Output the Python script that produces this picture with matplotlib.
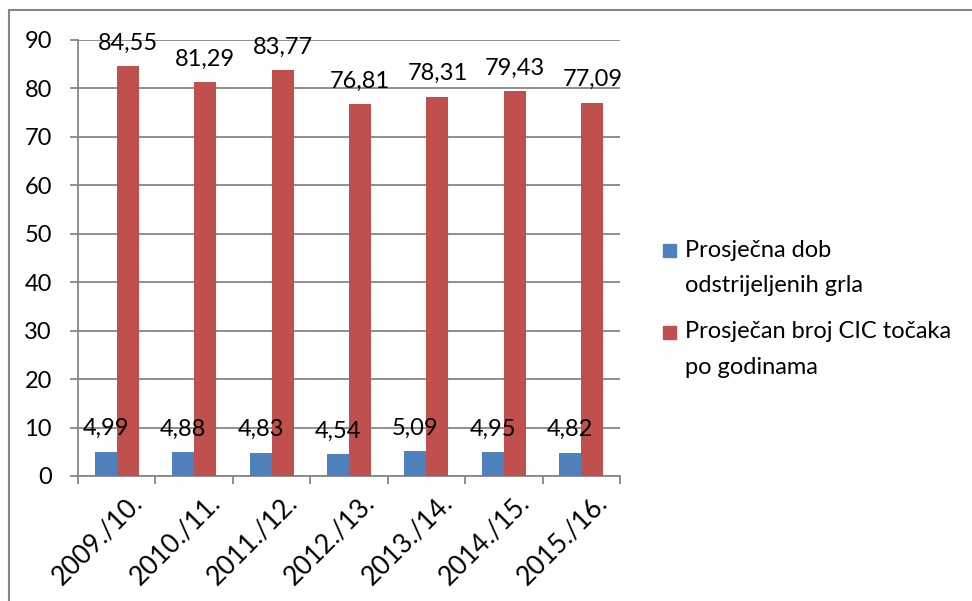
import numpy as np
import matplotlib.pyplot as plt
from matplotlib.patches import Rectangle
from matplotlib.transforms import ScaledTranslation

# ------------------------
# Data
# ------------------------
seasons = ['2009./10.', '2010./11.', '2011./12.', '2012./13.',
           '2013./14.', '2014./15.', '2015./16.']
avg_age = [4.99, 4.88, 4.83, 4.54, 5.09, 4.95, 4.82]
avg_cic = [84.55, 81.29, 83.77, 76.81, 78.31, 79.43, 77.09]
series_names = ['Prosječna dob\nodstrijeljenih grla',
                'Prosječan broj CIC točaka\npo godinama']

blue = '#4f81bd'
red = '#c0504d'
grey = '#868686'

plt.rcParams['font.family'] = ['Lato', 'DejaVu Sans']
fs = 17

W, H = 972, 601
fig = plt.figure(figsize=(W / 100, H / 100), dpi=100)
ax = fig.add_axes([78 / W, 1 - 476 / H, (620 - 78) / W, (476 - 40) / H])

# outer chart frame (continues past the image edge)
fig.patches.append(Rectangle((9 / W, -0.1), 1.2, 1 - 10 / H + 0.1,
                             transform=fig.transFigure, fill=False,
                             edgecolor=grey, linewidth=1.5))

x = np.arange(len(seasons))
w = 0.285
b1 = ax.bar(x - w / 2, avg_age, w, color=blue, zorder=3)
b2 = ax.bar(x + w / 2, avg_cic, w, color=red, zorder=3)

fmt = lambda v: f'{v:.2f}'.replace('.', ',')
ax.bar_label(b1, labels=[fmt(v) for v in avg_age], padding=9, fontsize=fs)
ax.bar_label(b2, labels=[fmt(v) for v in avg_cic], padding=9, fontsize=fs)

ax.set_xlim(-0.5, len(seasons) - 0.5)
ax.set_ylim(0, 90)
ax.set_yticks(np.arange(0, 91, 10))
ax.yaxis.grid(True, color=grey, linewidth=1.3, zorder=0)
ax.tick_params(axis='y', length=5.8, color=grey, width=1.3, labelsize=fs, pad=13)

ax.set_xticks(x)
ax.set_xticklabels(seasons, rotation=45, ha='right', rotation_mode='anchor', fontsize=19)
ax.set_xticks(np.arange(-0.5, len(seasons)), minor=True)
ax.tick_params(axis='x', which='major', length=0, pad=10)
ax.tick_params(axis='x', which='minor', length=5.8, color=grey, width=1.3)
for lab in ax.get_xticklabels():
    lab.set_transform(lab.get_transform() + ScaledTranslation(0.13, 0, fig.dpi_scale_trans))

for s in ['top', 'right']:
    ax.spines[s].set_visible(False)
for s in ['left', 'bottom']:
    ax.spines[s].set_color(grey)
    ax.spines[s].set_linewidth(1.3)

# legend, Excel style: square key next to the first line of each entry
legend_rows = [(series_names[0], blue, 250), (series_names[1], red, 332)]
for name, col, ytop in legend_rows:
    fig.patches.append(Rectangle((663 / W, 1 - (ytop + 7) / H), 13 / W, 13 / H,
                                 transform=fig.transFigure, color=col))
    for i, line in enumerate(name.split('\n')):
        fig.text(685 / W, 1 - (ytop + 35 * i) / H, line, fontsize=fs,
                 ha='left', va='center')

fig.savefig('out.png', dpi=100)
